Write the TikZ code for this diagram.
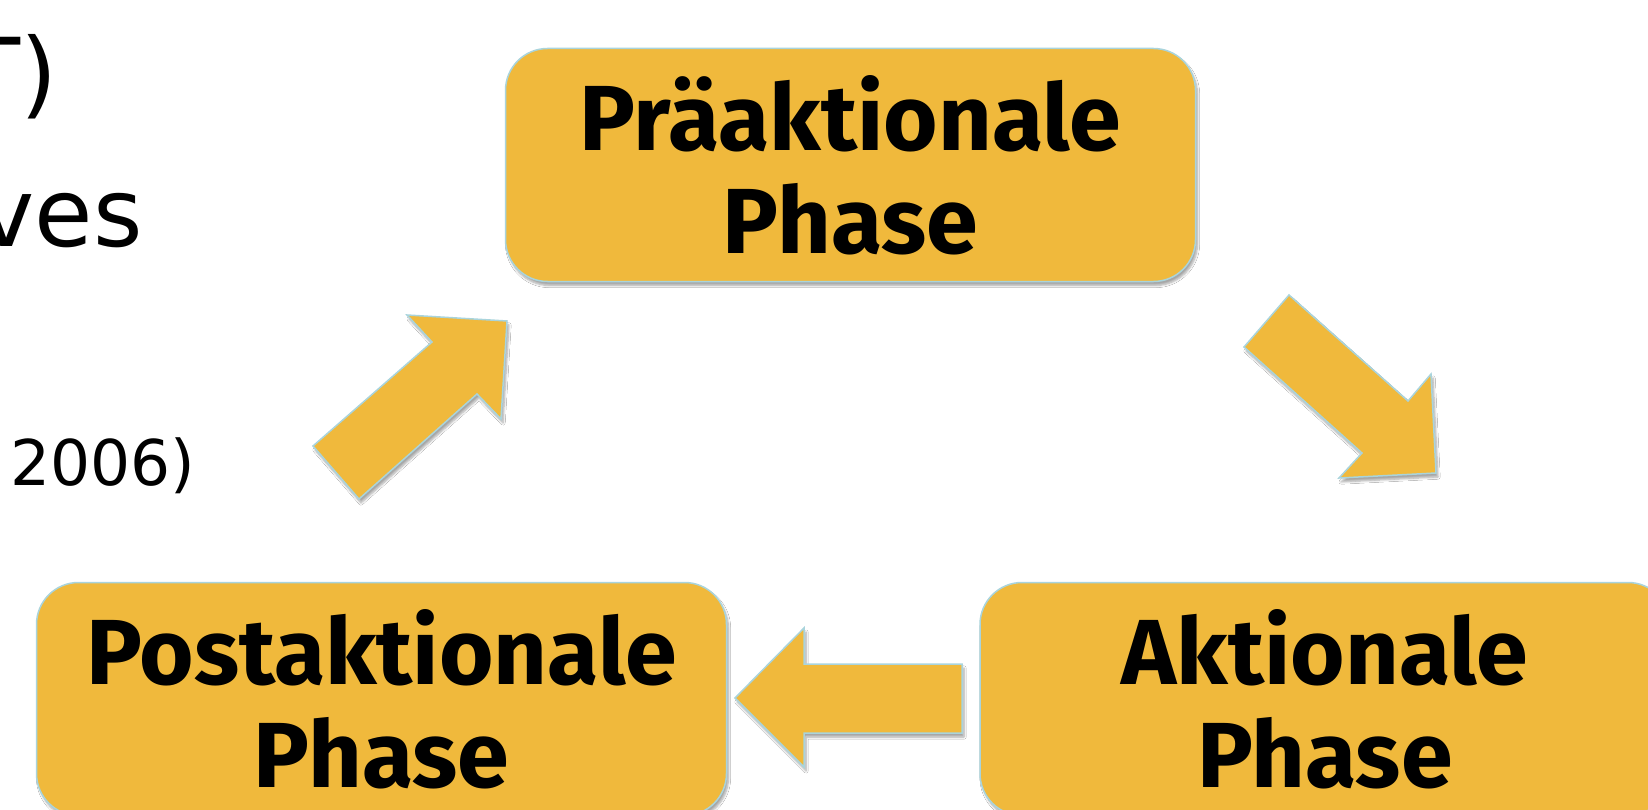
\documentclass[tikz,border=0pt]{standalone}
\usepackage{fontspec}
\setmainfont{DejaVu Sans}
\newfontfamily\boxfont{Fira Sans}[FakeStretch=1.01]
\usetikzlibrary{shadows.blur}
\definecolor{boxfill}{HTML}{F0B93C}
\definecolor{edgeblue}{HTML}{A9D4DC}
\tikzset{
  phasebox/.style={rounded corners=42pt, fill=boxfill, draw=edgeblue, line width=1.5pt,
    minimum width=690pt, minimum height=233pt, inner sep=0pt, align=center, text=black,
    font=\boxfont\bfseries\fontsize{92.5}{103}\selectfont,
    blur shadow={shadow xshift=2pt, shadow yshift=-4pt, shadow blur steps=6, shadow opacity=35}},
  blockarrow/.style={fill=boxfill, draw=edgeblue, line width=1.5pt, line join=miter,
    blur shadow={shadow xshift=2pt, shadow yshift=-4pt, shadow blur steps=6, shadow opacity=35}},
  sidetext/.style={inner sep=0pt, text=black}
}
\begin{document}
\begin{tikzpicture}[x=1pt, y=-1pt]
\useasboundingbox (0,0) rectangle (1648,810);
\clip (0,0) rectangle (1648,810);
\fill[white] (0,0) rectangle (1648,810);
% partial side text
\node[sidetext, anchor=base east, font=\fontsize{95}{100}\selectfont] (t1) at (58,107) {T)};
\node[sidetext, anchor=base east, font=\fontsize{95}{100}\selectfont] (t2) at (143,247) {ves};
\node[sidetext, anchor=base west, font=\fontsize{63}{70}\selectfont] (t3) at (10,485) {2006)};
% boxes
\node[phasebox] (pre) at (850.5,165) {Präaktionale\\Phase};
\node[phasebox] (post) at (381.5,699) {Postaktionale\\Phase};
\node[phasebox] (akt) at (1325,699) {Aktionale\\Phase};
% arrows
\draw[blockarrow] (313,446) -- (359,499) -- (477,394) -- (501,419) -- (507,321) -- (407,315) -- (432,342) -- cycle;
\draw[blockarrow] (1289,295) -- (1244,347) -- (1362,453) -- (1339,478) -- (1436,473) -- (1431,374) -- (1408,401) -- cycle;
\draw[blockarrow] (962,664) -- (804,664) -- (804,628) -- (735,698) -- (804,767) -- (804,733) -- (962,733) -- cycle;
\end{tikzpicture}
\end{document}
